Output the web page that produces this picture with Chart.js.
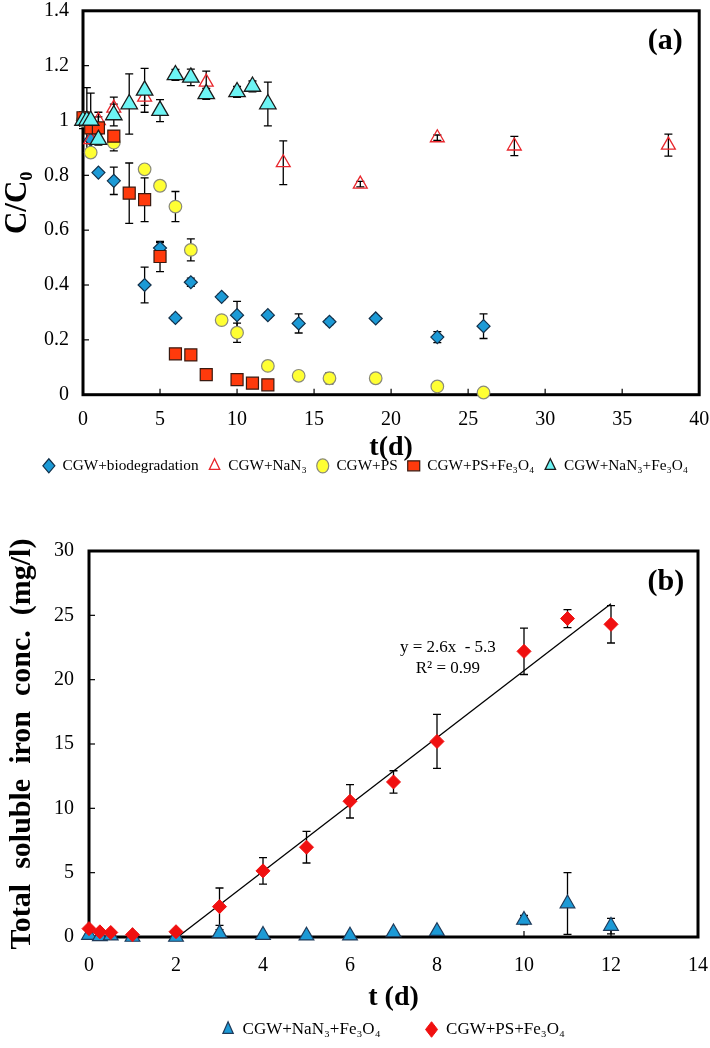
<!DOCTYPE html>
<html>
<head>
<meta charset="utf-8">
<script src="https://cdn.jsdelivr.net/npm/chart.js@4.4.1/dist/chart.umd.min.js"></script>
<style>
  body { margin: 0; background: #fff; }
  #boxA { position: absolute; left: 0; top: 0; width: 710px; height: 490px; }
  #boxB { position: absolute; left: 0; top: 490px; width: 710px; height: 558px; }
</style>
</head>
<body>
<div id="boxA"><canvas id="chartA"></canvas></div>
<div id="boxB"><canvas id="chartB"></canvas></div>
<script>
// ---- (a) C/C0 vs time ----
var xTicksA = [0, 5, 10, 15, 20, 25, 30, 35, 40];
var yTicksA = [0, 0.2, 0.4, 0.6, 0.8, 1, 1.2, 1.4];

var bioX   = [0, 0.5, 1, 2, 4, 5, 6, 7, 9, 10, 12, 14, 16, 19, 23, 26];
var bioY   = [1.0, 0.93, 0.81, 0.78, 0.40, 0.535, 0.28, 0.41, 0.357, 0.29, 0.29, 0.26, 0.266, 0.278, 0.21, 0.25];
var bioErr = [0.02, 0.03, 0, 0.05, 0.065, 0.02, 0.01, 0.015, 0.01, 0.05, 0.01, 0.035, 0.01, 0.01, 0.02, 0.045];

var nanX   = [0, 0.5, 1, 2, 4, 8, 13, 18, 23, 28, 38];
var nanY   = [1.0, 0.93, 1.0, 1.045, 1.085, 1.14, 0.846, 0.768, 0.937, 0.907, 0.91];
var nanErr = [0.02, 0.03, 0.03, 0.04, 0.03, 0.04, 0.08, 0.01, 0.01, 0.035, 0.04];

var psX   = [0, 0.5, 2, 4, 5, 6, 7, 9, 10, 12, 14, 16, 19, 23, 26];
var psY   = [1.0, 0.883, 0.919, 0.822, 0.762, 0.686, 0.528, 0.272, 0.226, 0.105, 0.069, 0.06, 0.06, 0.03, 0.008];
var psErr = [0.02, 0.01, 0.03, 0.015, 0.01, 0.055, 0.04, 0.01, 0.035, 0.01, 0.01, 0.02, 0.01, 0.01, 0.01];

var psfX   = [0, 0.5, 1, 2, 3, 4, 5, 6, 7, 8, 10, 11, 12];
var psfY   = [1.01, 0.973, 0.973, 0.943, 0.735, 0.711, 0.504, 0.149, 0.145, 0.073, 0.055, 0.042, 0.036];
var psfErr = [0.02, 0.03, 0.04, 0.02, 0.11, 0.08, 0.055, 0.015, 0.015, 0.01, 0.02, 0.01, 0.01];

var nfX   = [0, 0.25, 0.5, 1, 2, 3, 4, 5, 6, 7, 8, 10, 11, 12];
var nfY   = [1.0, 1.0, 1.0, 0.93, 1.02, 1.06, 1.11, 1.036, 1.166, 1.157, 1.097, 1.104, 1.124, 1.06];
var nfErr = [0.03, 0.12, 0.1, 0.02, 0.04, 0.11, 0.08, 0.04, 0.02, 0.03, 0.02, 0.02, 0.02, 0.08];

// ---- (b) soluble iron vs time ----
var xTicksB = [0, 2, 4, 6, 8, 10, 12, 14];
var yTicksB = [0, 5, 10, 15, 20, 25, 30];

var ironNfX   = [0, 0.25, 0.5, 1, 2, 3, 4, 5, 6, 7, 8, 10, 11, 12];
var ironNfY   = [0.15, 0.05, 0.1, 0.0, 0.0, 0.28, 0.15, 0.1, 0.1, 0.35, 0.45, 1.32, 2.6, 0.85];
var ironNfErr = [0, 0, 0, 0, 0, 0.3, 0.15, 0, 0, 0, 0, 0.35, 2.4, 0.6];

var ironPsfX   = [0, 0.25, 0.5, 1, 2, 3, 4, 5, 6, 7, 8, 10, 11, 12];
var ironPsfY   = [0.65, 0.4, 0.35, 0.18, 0.41, 2.36, 5.14, 6.98, 10.55, 12.05, 15.2, 22.2, 24.75, 24.3];
var ironPsfErr = [0, 0, 0, 0, 0, 1.45, 1.03, 1.23, 1.3, 0.87, 2.1, 1.8, 0.7, 1.45];

var fitX = [2.04, 12];
var fitY = [0, 25.9];

var serif = 'Liberation Serif';

function pts(xs, ys) {
    return xs.map(function(x, i) { return {x: x, y: ys[i]}; });
}

function setTicks(list) {
    return function(scale) {
        scale.ticks = list.map(function(v) { return {value: v}; });
    };
}

// frame, inward ticks, error bars and text labels
var decor = {
    id: 'decor',
    beforeDatasetsDraw: function(chart, args, opts) {
        var ctx = chart.ctx, ca = chart.chartArea;
        var xs = chart.scales.x, ys = chart.scales.y;
        ctx.save();
        ctx.strokeStyle = '#000';
        ctx.lineWidth = 1.3;
        chart.data.datasets.forEach(function(ds, i) {
            if (!ds.err) return;
            var meta = chart.getDatasetMeta(i);
            meta.data.forEach(function(p, j) {
                var e = ds.err[j];
                if (!e) return;
                var v = ds.data[j].y;
                var t = ys.getPixelForValue(v + e), b = ys.getPixelForValue(v - e);
                ctx.beginPath();
                ctx.moveTo(p.x, t); ctx.lineTo(p.x, b);
                ctx.moveTo(p.x - 4, t); ctx.lineTo(p.x + 4, t);
                ctx.moveTo(p.x - 4, b); ctx.lineTo(p.x + 4, b);
                ctx.stroke();
            });
        });
        ctx.lineWidth = 1.2;
        xs.ticks.forEach(function(t) {
            var px = xs.getPixelForValue(t.value);
            ctx.beginPath(); ctx.moveTo(px, ca.bottom); ctx.lineTo(px, ca.bottom - 6); ctx.stroke();
        });
        ys.ticks.forEach(function(t) {
            var py = ys.getPixelForValue(t.value);
            ctx.beginPath(); ctx.moveTo(ca.left, py); ctx.lineTo(ca.left + 6, py); ctx.stroke();
        });
        ctx.lineWidth = 3;
        ctx.strokeRect(ca.left, ca.top, ca.right - ca.left, ca.bottom - ca.top);
        ctx.restore();
    },
    afterDraw: function(chart, args, opts) {
        var ctx = chart.ctx;
        ctx.save();
        ctx.fillStyle = '#000';
        ctx.textAlign = 'center';
        ctx.textBaseline = 'middle';
        (opts.labels || []).forEach(function(l) {
            ctx.font = l.font;
            ctx.fillText(l.text, chart.scales.x.getPixelForValue(l.x), chart.scales.y.getPixelForValue(l.y));
        });
        ctx.restore();
    }
};

var tickFont = {family: serif, size: 20};

new Chart(document.getElementById('chartA'), {
    type: 'scatter',
    data: {
        datasets: [
            {label: 'CGW+biodegradation', data: pts(bioX, bioY), err: bioErr, pointStyle: 'rectRot', pointRadius: 6.5,
             backgroundColor: '#1C9AD6', borderColor: '#12304A', pointBorderWidth: 1.2, order: 5, clip: false},
            {label: 'CGW+NaN₃', data: pts(nanX, nanY), err: nanErr, pointStyle: 'triangle', pointRadius: 8,
             backgroundColor: 'rgba(255,255,255,0)', borderColor: '#E8262C', pointBorderWidth: 1.3, order: 4, clip: false},
            {label: 'CGW+PS', data: pts(psX, psY), err: psErr, pointStyle: 'circle', pointRadius: 6.3,
             backgroundColor: '#FFFF33', borderColor: '#8A8A7A', pointBorderWidth: 1.2, order: 3, clip: false},
            {label: 'CGW+PS+Fe₃O₄', data: pts(psfX, psfY), err: psfErr, pointStyle: 'rect', pointRadius: 8.5,
             backgroundColor: '#FF3A0C', borderColor: '#3A1A10', pointBorderWidth: 1.2, order: 2, clip: false},
            {label: 'CGW+NaN₃+Fe₃O₄', data: pts(nfX, nfY), err: nfErr, pointStyle: 'triangle', pointRadius: 9.5,
             backgroundColor: '#6CF4F4', borderColor: '#1A1A1A', pointBorderWidth: 1.3, order: 1, clip: false}
        ]
    },
    options: {
        responsive: true,
        maintainAspectRatio: false,
        animation: false,
        events: [],
        layout: {padding: {left: 28, right: 7, top: 9, bottom: 6.5}},
        scales: {
            x: {
                type: 'linear', min: 0, max: 40,
                afterBuildTicks: setTicks(xTicksA),
                grid: {display: false, drawTicks: false},
                border: {display: false},
                ticks: {font: tickFont, color: '#000', padding: 13, maxRotation: 0, autoSkip: false},
                title: {display: true, text: 't(d)', color: '#000',
                        font: {family: serif, size: 28, weight: 'bold', lineHeight: 1}, padding: {top: 0, bottom: -13.5}},
                afterFit: function(s) { s.height = 53.5; s.paddingLeft = 0; s.paddingRight = 0; }
            },
            y: {
                type: 'linear', min: 0, max: 1.4,
                afterBuildTicks: setTicks(yTicksA),
                grid: {display: false, drawTicks: false},
                border: {display: false},
                ticks: {font: tickFont, color: '#000', padding: 14,
                        callback: function(v) { return String(+v.toFixed(1)); }},
                title: {display: true, text: 'C/C₀', color: '#000',
                        font: {family: serif, size: 31, weight: 'bold', lineHeight: 1}, padding: {top: -26, bottom: 0}},
                afterFit: function(s) { s.width = 55; s.paddingTop = 0; s.paddingBottom = 0; }
            }
        },
        plugins: {
            tooltip: {enabled: false},
            legend: {
                position: 'bottom',
                labels: {usePointStyle: true, pointStyleWidth: 12, boxHeight: 10, padding: 10,
                         font: {family: serif, size: 15.3}, color: '#000',
                         sort: function(a, b) { return a.datasetIndex - b.datasetIndex; }}
            },
            decor: {labels: [{text: '(a)', x: 37.8, y: 1.29, font: 'bold 30px ' + serif}]}
        }
    },
    plugins: [decor]
});

new Chart(document.getElementById('chartB'), {
    type: 'scatter',
    data: {
        datasets: [
            {label: 'CGW+NaN₃+Fe₃O₄', data: pts(ironNfX, ironNfY), err: ironNfErr, pointStyle: 'triangle', pointRadius: 8.5,
             backgroundColor: '#1C9AD6', borderColor: '#1F3A5A', pointBorderWidth: 1.2, order: 2, clip: false},
            {label: 'CGW+PS+Fe₃O₄', data: pts(ironPsfX, ironPsfY), err: ironPsfErr, pointStyle: 'rectRot', pointRadius: 7,
             backgroundColor: '#F01010', borderColor: '#F01010', pointBorderWidth: 1, order: 1, clip: false},
            {label: 'fit', data: pts(fitX, fitY), showLine: true, pointRadius: 0, borderColor: '#000',
             borderWidth: 1.3, order: 3, clip: false}
        ]
    },
    options: {
        responsive: true,
        maintainAspectRatio: false,
        animation: false,
        events: [],
        layout: {padding: {left: 0, right: 12, top: 61, bottom: 0}},
        scales: {
            x: {
                type: 'linear', min: 0, max: 14,
                afterBuildTicks: setTicks(xTicksB),
                grid: {display: false, drawTicks: false},
                border: {display: false},
                ticks: {font: tickFont, color: '#000', padding: 17, maxRotation: 0, autoSkip: false},
                title: {display: true, text: 't (d)', color: '#000',
                        font: {family: serif, size: 28, weight: 'bold', lineHeight: 1}, padding: {top: 0, bottom: -36}},
                afterFit: function(s) { s.height = 39; s.paddingLeft = 0; s.paddingRight = 0; }
            },
            y: {
                type: 'linear', min: 0, max: 30,
                afterBuildTicks: setTicks(yTicksB),
                grid: {display: false, drawTicks: false},
                border: {display: false},
                ticks: {font: tickFont, color: '#000', padding: 15},
                title: {display: true, text: 'Total  soluble  iron  conc.  (mg/l)', color: '#000',
                        font: {family: serif, size: 30, weight: 'bold', lineHeight: 1}, padding: {top: 7, bottom: 0}},
                afterFit: function(s) { s.width = 89; s.paddingTop = 0; s.paddingBottom = 0; }
            }
        },
        plugins: {
            tooltip: {enabled: false},
            legend: {
                position: 'bottom',
                fullSize: false,
                labels: {usePointStyle: true, pointStyleWidth: 12, boxHeight: 11, padding: 45,
                         font: {family: serif, size: 17}, color: '#000',
                         filter: function(item) { return item.datasetIndex !== 2; },
                         sort: function(a, b) { return a.datasetIndex - b.datasetIndex; }}
            },
            decor: {labels: [
                {text: '(b)', x: 13.26, y: 27.6, font: 'bold 30px ' + serif},
                {text: 'y = 2.6x  - 5.3', x: 8.25, y: 22.5, font: '17px ' + serif},
                {text: 'R² = 0.99', x: 8.25, y: 20.9, font: '17px ' + serif}
            ]}
        }
    },
    plugins: [decor]
});
</script>
</body>
</html>
